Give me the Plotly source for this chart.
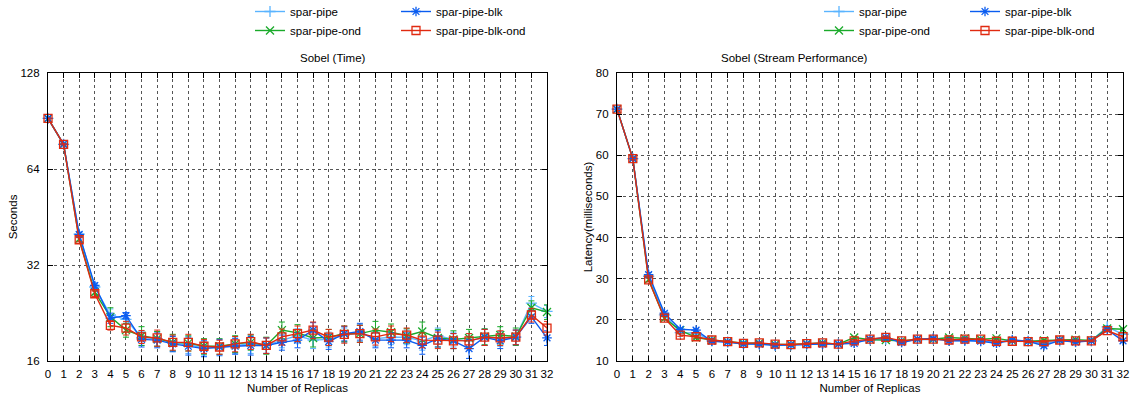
import plotly.graph_objects as go

replicas = list(range(33))
series_names = ["spar-pipe", "spar-pipe-blk", "spar-pipe-ond", "spar-pipe-blk-ond"]

# Sobel (Time) - seconds
time_pipe = [92.2, 76.5, 40.0, 27.3, 22.3, 21.6, 18.9, 18.8, 18.2, 18.0, 17.6, 17.6, 17.9, 18.1, 17.9, 18.6, 19.2,
             18.6, 18.7, 19.3, 19.6, 18.8, 19.0, 19.0, 18.5, 19.2, 18.7, 18.5, 19.0, 18.8, 19.0, 24.3, 22.9]
time_blk = [92.2, 76.5, 39.9, 27.6, 21.8, 22.2, 18.7, 18.6, 18.1, 17.8, 17.5, 17.7, 17.8, 17.9, 17.9, 18.3, 18.6,
            20.0, 18.4, 19.5, 19.8, 18.6, 18.6, 18.6, 17.9, 18.8, 18.5, 17.5, 19.0, 18.5, 19.0, 22.0, 18.9]
time_ond = [92.2, 76.5, 38.6, 26.3, 22.0, 20.0, 19.2, 18.8, 18.3, 18.2, 17.8, 17.8, 18.1, 18.3, 17.9, 20.0, 19.6,
            18.9, 19.0, 19.5, 19.5, 20.0, 19.7, 19.2, 19.8, 18.9, 18.7, 18.9, 19.1, 19.3, 19.1, 23.5, 22.8]
time_blk_ond = [92.2, 76.5, 38.4, 26.0, 20.7, 20.3, 19.05, 18.9, 18.3, 18.3, 17.8, 17.7, 18.1, 18.4, 17.9, 19.05, 19.5,
                20.0, 19.0, 19.4, 19.5, 19.05, 19.5, 19.3, 18.6, 18.6, 18.5, 18.5, 19.0, 18.9, 19.0, 22.3, 20.3]

time_err_pipe = [0.3, 0.3, 0.6, 0.5, 1.0, 0.6, 1.0, 1.0, 1.0, 1.1, 1.0, 1.0, 1.0, 1.2, 1.0, 1.0, 1.0,
                 1.1, 1.0, 1.0, 1.2, 1.0, 1.0, 1.0, 1.2, 1.1, 1.0, 1.0, 1.1, 1.0, 1.0, 1.2, 1.0]
time_err_blk = [0.3, 0.3, 0.6, 0.5, 0.8, 0.5, 1.0, 1.0, 1.0, 1.1, 1.0, 1.0, 1.0, 1.2, 1.0, 1.0, 1.0,
                1.1, 1.0, 1.0, 1.2, 1.0, 1.0, 1.0, 1.1, 1.1, 1.0, 1.2, 1.1, 1.0, 1.0, 1.0, 1.0]
time_err_ond = [0.3, 0.3, 0.6, 0.5, 1.5, 1.0, 1.3, 1.0, 1.1, 1.0, 1.0, 1.0, 1.1, 1.0, 1.1, 1.2, 1.2,
                1.2, 1.1, 1.1, 1.2, 1.3, 1.2, 1.0, 1.4, 1.2, 1.2, 1.2, 1.1, 1.2, 1.2, 1.2, 1.2]
time_err_blk_ond = [0.3, 0.3, 0.6, 0.5, 0.7, 1.0, 0.9, 1.1, 1.0, 1.1, 0.9, 0.9, 1.0, 1.0, 1.0, 1.1, 1.1,
                    1.2, 1.1, 1.2, 1.2, 1.1, 1.1, 1.0, 1.0, 1.1, 1.0, 1.0, 1.1, 1.0, 1.0, 1.1, 1.0]

# Sobel (Stream Performance) - latency in milliseconds
lat_pipe = [71.2, 59.2, 30.6, 21.2, 16.9, 16.8, 14.9, 14.6, 14.2, 14.1, 13.8, 13.9, 14.1, 14.2, 14.1, 14.6, 15.1,
            15.3, 14.7, 15.2, 15.3, 15.0, 15.0, 14.9, 14.6, 15.0, 14.8, 14.3, 14.9, 14.7, 14.9, 18.3, 16.5]
lat_blk = [71.2, 59.2, 31.0, 21.6, 17.7, 17.5, 14.8, 14.6, 14.1, 14.1, 13.8, 13.9, 14.1, 14.1, 14.1, 14.3, 15.3,
           15.7, 14.5, 15.3, 15.5, 14.9, 15.0, 14.8, 14.3, 15.1, 14.8, 13.7, 15.0, 14.6, 14.9, 17.6, 14.9]
lat_ond = [71.2, 59.2, 29.8, 20.4, 17.5, 15.7, 15.1, 14.7, 14.3, 14.3, 14.0, 14.0, 14.2, 14.4, 14.1, 15.7, 15.2,
           15.1, 14.9, 15.3, 15.3, 15.7, 15.5, 15.3, 15.5, 14.9, 14.8, 15.0, 15.1, 15.2, 15.0, 17.9, 17.7]
lat_blk_ond = [71.2, 59.2, 29.7, 20.4, 16.3, 15.9, 15.1, 14.7, 14.3, 14.4, 14.1, 14.0, 14.2, 14.4, 14.1, 14.9, 15.3,
               15.75, 14.9, 15.3, 15.3, 15.1, 15.3, 15.3, 14.8, 14.8, 14.7, 14.7, 15.1, 14.9, 14.9, 17.4, 15.9]
lat_err = [0.3, 0.3, 0.5, 0.4, 0.3, 0.3, 0.3, 0.2, 0.2, 0.2, 0.2, 0.2, 0.2, 0.2, 0.2, 0.3, 0.3,
           0.3, 0.3, 0.2, 0.2, 0.3, 0.3, 0.2, 0.3, 0.2, 0.2, 0.3, 0.2, 0.2, 0.2, 0.3, 0.3]

colors = ["#5ab4ff", "#0a5cf0", "#1aaa2a", "#e02a10"]
symbols = ["cross-thin-open", "asterisk-open", "x-thin-open", "square-open"]
time_data = [time_pipe, time_blk, time_ond, time_blk_ond]
time_errs = [time_err_pipe, time_err_blk, time_err_ond, time_err_blk_ond]
lat_data = [lat_pipe, lat_blk, lat_ond, lat_blk_ond]

FONT = "Liberation Sans, Arial, sans-serif"
FS = 11.5

# legend columns: (pipe, ond) in column 1, (blk, blk-ond) in column 2
left_legends = ["legend", "legend2", "legend", "legend2"]
right_legends = ["legend3", "legend4", "legend3", "legend4"]
order = [0, 2, 1, 3]

fig = go.Figure()
for i in order:
    fig.add_trace(go.Scatter(
        x=replicas, y=time_data[i], name=series_names[i], mode="lines+markers",
        line=dict(color=colors[i], width=1.4),
        marker=dict(symbol=symbols[i], size=8, color=colors[i], line=dict(color=colors[i], width=1.3)),
        error_y=dict(type="data", array=time_errs[i], color=colors[i], thickness=1, width=3),
        cliponaxis=False, xaxis="x", yaxis="y", legend=left_legends[i]))
for i in order:
    fig.add_trace(go.Scatter(
        x=replicas, y=lat_data[i], name=series_names[i], mode="lines+markers",
        line=dict(color=colors[i], width=1.4),
        marker=dict(symbol=symbols[i], size=8, color=colors[i], line=dict(color=colors[i], width=1.3)),
        error_y=dict(type="data", array=lat_err, color=colors[i], thickness=1, width=3),
        cliponaxis=False, xaxis="x2", yaxis="y2", legend=right_legends[i]))

axis_common = dict(
    showline=True, linecolor="black", linewidth=1.2, mirror="ticks",
    ticks="inside", ticklen=5, tickcolor="black",
    showgrid=True, gridcolor="#555555", griddash="dot", gridwidth=1,
    zeroline=False, tickfont=dict(family=FONT, size=FS, color="black"),
    automargin=False,
)
xaxis_common = dict(range=[0, 32], tickmode="linear", tick0=0, dtick=1, tickangle=0,
                    ticklabelstandoff=2, **axis_common)

L, R, T, B = 48, 11, 73, 38
W, H = 1134, 399
PW, PH = W - L - R, H - T - B


def px(x):
    return (x - L) / PW


def py(y):
    return (H - B - y) / PH


legend_common = dict(orientation="v", xanchor="left", yanchor="top", y=py(-3),
                     font=dict(family=FONT, size=FS, color="black"), bgcolor="rgba(0,0,0,0)",
                     tracegroupgap=0, itemwidth=30, borderwidth=0)

fig.update_layout(
    width=W, height=H,
    margin=dict(l=L, r=R, t=T, b=B, autoexpand=False),
    paper_bgcolor="white", plot_bgcolor="white",
    font=dict(family=FONT, size=FS, color="black"),
    showlegend=True,
    xaxis=dict(domain=[0, px(547)], anchor="y",
               title=dict(text="Number of Replicas", font=dict(size=FS), standoff=5), **xaxis_common),
    yaxis=dict(domain=[0, 1], type="log", range=[1.20412, 2.10721],
               tickvals=[16, 32, 64, 128], ticktext=["16", "32", "64", "128"], ticklabelstandoff=5,
               title=dict(text="Seconds", font=dict(size=FS), standoff=0), anchor="x", **axis_common),
    xaxis2=dict(domain=[px(617), 1], anchor="y2",
                title=dict(text="Number of Replicas", font=dict(size=FS), standoff=5), **xaxis_common),
    yaxis2=dict(domain=[0, 1], range=[10, 80], dtick=10, ticklabelstandoff=5,
                title=dict(text="Latency(milliseconds)", font=dict(size=FS), standoff=0), anchor="x2",
                **axis_common),
    legend=dict(x=px(250), **legend_common),
    legend2=dict(x=px(396), **legend_common),
    legend3=dict(x=px(819), **legend_common),
    legend4=dict(x=px(965), **legend_common),
    annotations=[
        dict(text="Sobel (Time)", x=px((48 + 547) / 2), y=py(58), xref="paper", yref="paper",
             showarrow=False, font=dict(family=FONT, size=FS), yanchor="middle"),
        dict(text="Sobel (Stream Performance)", x=px((617 + 1123) / 2), y=py(58), xref="paper", yref="paper",
             showarrow=False, font=dict(family=FONT, size=FS), yanchor="middle"),
    ],
)

fig.write_html("out.html", config={"displayModeBar": False},
               post_script="document.body.style.margin='0';")
